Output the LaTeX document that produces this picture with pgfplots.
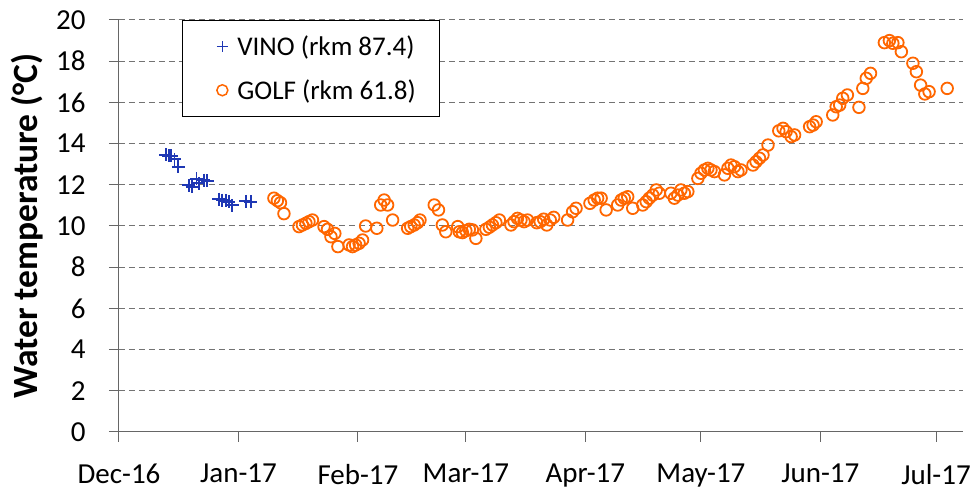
\documentclass[border=0pt]{standalone}
\usepackage{pgfplots}
\pgfplotsset{compat=1.18}
\usepackage{fontspec}
\setmainfont{Carlito}
\definecolor{vino}{RGB}{30,55,180}
\definecolor{golf}{RGB}{255,102,0}
\begin{document}
\begin{tikzpicture}
\begin{axis}[
    name=ax,
    scale only axis,
    width=844pt, height=412pt,
    xmin=0, xmax=219,
    ymin=0, ymax=20,
    axis x line=bottom, axis y line=left,
    axis line style={-, line width=1pt, black!60},
    tick align=outside,
    major tick length=10pt,
    tick style={line width=1pt, black!60},
    xtick={0,31,62,90,121,151,182,212},
    xticklabels={Dec-16,Jan-17,Feb-17,Mar-17,Apr-17,May-17,Jun-17,Jul-17},
    ytick={0,2,...,20},
    ymajorgrids=true,
    grid style={dashed, dash pattern=on 6pt off 4pt, line width=1pt, black!55},
    /pgf/number format/assume math mode=true,
    ticklabel style={font=\fontsize{29}{34}\selectfont},
    xticklabel style={yshift=-18.5pt},
    yticklabel style={xshift=-20pt},
    ylabel={\textbf{Water temperature (°C)}},
    ylabel style={font=\fontsize{35.5}{40}\selectfont,
        at={(axis description cs:-0.109,0.5)}, anchor=center},
    legend style={at={(0.0746,1.0)}, anchor=north west, draw=black, line width=0.8pt,
        fill=white, font=\fontsize{27}{32}\selectfont, row sep=18.5pt,
        inner xsep=22pt, inner ysep=13.5pt},
    legend cell align=left,
]
\addplot[only marks, mark=+, mark size=6.5pt, draw=vino, line width=1.9pt,
    legend image code/.code={\path[draw=none] (0pt,0pt) -- (31pt,0pt);
        \draw[vino, line width=1.3pt] plot[mark=+, mark size=5.5pt] coordinates {(18pt,0pt)};}]
coordinates {
(12.1,13.45) (12.9,13.4) (13.6,13.4) (14.4,13.24) (15.4,12.88)
(18.1,11.99) (19.0,11.9) (20.1,12.3) (20.7,12.07) (22.0,12.23) (22.9,12.2)
(25.9,11.3) (26.8,11.26) (27.7,11.23) (28.5,11.18) (29.4,11.0)
(32.9,11.2) (34.2,11.18)
};
\addlegendentry{VINO (rkm 87.4)}
\addplot[only marks, mark=o, mark size=5.8pt, draw=golf, line width=1.8pt,
    legend image code/.code={\path[draw=none] (0pt,0pt) -- (31pt,0pt);
        \draw[golf, line width=1.5pt] plot[mark=o, mark size=5.5pt] coordinates {(18pt,0pt)};}]
coordinates {
(40.2,11.35) (41.1,11.23) (41.9,11.13) (42.8,10.6)
(46.7,9.97) (47.6,10.05) (48.5,10.13) (49.3,10.21) (50.2,10.29)
(53.2,9.97) (54.1,9.84) (55.0,9.48) (56.0,9.64) (56.8,9.0)
(59.7,9.08) (60.6,9.0) (61.4,9.08) (62.3,9.16) (63.2,9.32) (64.0,10.0)
(66.9,9.89) (67.9,11.02) (68.8,11.26) (69.7,11.02) (71.0,10.29)
(74.9,9.89) (75.7,9.97) (76.6,10.05) (77.5,10.16) (78.1,10.29)
(81.8,11.02) (82.9,10.78) (83.9,10.05) (84.8,9.72)
(87.9,9.97) (88.3,9.72) (89.1,9.68) (90.0,9.77) (90.9,9.84) (91.7,9.81) (92.6,9.40)
(95.2,9.84) (96.1,9.94) (96.9,10.05) (97.8,10.16) (98.7,10.29)
(101.7,10.05) (102.5,10.21) (103.4,10.37) (104.3,10.29) (105.1,10.21) (106.0,10.29)
(108.4,10.16) (109.3,10.21) (110.2,10.33) (111.0,10.05) (111.9,10.29) (112.8,10.42)
(116.4,10.29) (117.7,10.69) (118.6,10.86)
(122.2,11.1) (123.3,11.26) (124.2,11.35) (125.1,11.35) (126.4,10.78)
(129.4,11.02) (130.3,11.26) (131.1,11.35) (132.0,11.42) (133.3,10.86)
(135.9,11.02) (136.8,11.18) (137.6,11.35) (138.5,11.5) (139.4,11.75) (140.2,11.59)
(143.2,11.59) (144.1,11.35) (145.0,11.5) (145.8,11.75) (146.7,11.59) (147.6,11.67)
(150.2,12.31) (151.0,12.56) (151.9,12.72) (152.8,12.8) (153.6,12.72) (154.5,12.64)
(157.1,12.48) (158.0,12.8) (158.8,12.96) (159.7,12.88) (160.6,12.64) (161.4,12.72)
(164.5,12.96) (165.3,13.12) (166.2,13.29) (167.1,13.45) (168.4,13.93)
(171.2,14.62) (172.3,14.74) (173.1,14.58) (174.4,14.34) (175.3,14.42)
(179.2,14.82) (180.1,14.9) (180.9,15.06)
(185.2,15.39) (186.1,15.79) (187.0,15.87) (187.8,16.2) (189.0,16.36)
(192.0,15.76) (193.0,16.68) (193.9,17.17) (195.0,17.41)
(198.6,18.9) (199.9,19.0) (200.8,18.87) (202.1,18.9) (203.0,18.46)
(206.0,17.9) (206.9,17.49) (208.0,16.84) (209.1,16.41) (210.2,16.52)
(214.9,16.68)
};
\addlegendentry{GOLF (rkm 61.8)}
\end{axis}
\pgfresetboundingbox
\path (ax.south west) ++(-119pt,-60pt) rectangle ([xshift=10pt,yshift=20pt]ax.north east);
\end{tikzpicture}
\end{document}
